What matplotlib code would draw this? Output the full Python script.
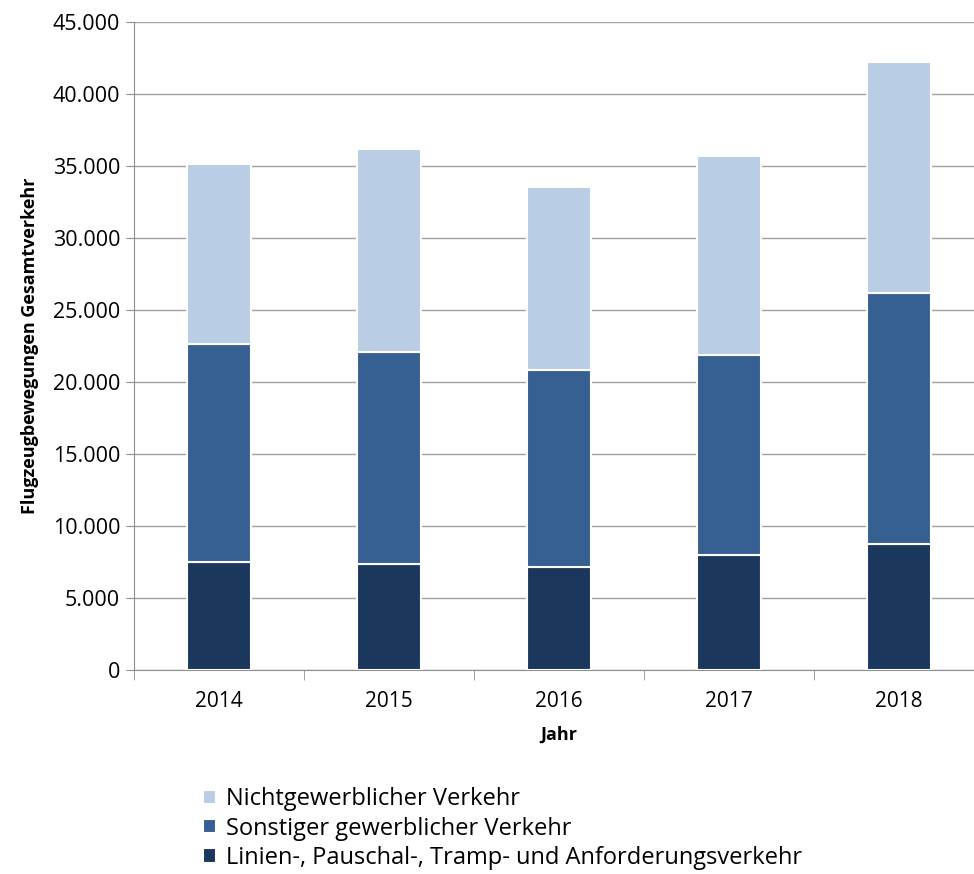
import numpy as np
import matplotlib.pyplot as plt
from matplotlib.ticker import FuncFormatter

plt.rcParams['font.family'] = ['Open Sans', 'DejaVu Sans']

# Flugbewegungen je Jahr, gestapelt nach Verkehrsart
jahre = ['2014', '2015', '2016', '2017', '2018']
linien = [7500, 7350, 7180, 8000, 8750]
sonstige = [15150, 14750, 13670, 13850, 17400]
nichtgewerblich = [12500, 14100, 12700, 13850, 16100]

labels = ['Linien-, Pauschal-, Tramp- und Anforderungsverkehr',
          'Sonstiger gewerblicher Verkehr',
          'Nichtgewerblicher Verkehr']
farben = ['#1b375e', '#376092', '#b9cde5']

fig = plt.figure(figsize=(9.74, 8.74), dpi=100)
ax = fig.add_axes([134 / 974, 204 / 874, 850 / 974, 648 / 874])

x = np.arange(len(jahre))
bottom = np.zeros(len(jahre))
handles = []
for werte, farbe, lab in zip([linien, sonstige, nichtgewerblich], farben, labels):
    b = ax.bar(x, werte, 0.38, bottom=bottom, color=farbe, edgecolor='white',
               linewidth=1.5, label=lab, zorder=3)
    handles.append(b)
    bottom += np.array(werte)

ax.set_xlim(-0.5, len(jahre) - 0.5)
ax.set_ylim(0, 45000)
ax.set_yticks(np.arange(0, 45001, 5000))
ax.yaxis.set_major_formatter(FuncFormatter(lambda v, p: f'{int(v):,}'.replace(',', '.')))
ax.grid(axis='y', color='#a0a0a0', linewidth=1, zorder=0)

ax.set_xticks(x)
ax.set_xticklabels(jahre)
ax.set_xticks(np.arange(-0.5, len(jahre)), minor=True)
ax.tick_params(axis='x', which='major', length=0, pad=15, labelsize=15)
ax.tick_params(axis='x', which='minor', length=7, color='#909090')
ax.tick_params(axis='y', length=6, color='#909090', labelsize=15.5, pad=4)

for s in ['top', 'right']:
    ax.spines[s].set_visible(False)
ax.spines['left'].set_color('#909090')
ax.spines['bottom'].set_color('#909090')

ax.set_xlabel('Jahr', fontsize=13, fontweight='bold', labelpad=10)
ax.set_ylabel('Flugzeugbewegungen Gesamtverkehr', fontsize=13, fontweight='bold', labelpad=10)

fig.legend(handles[::-1], labels[::-1], loc='upper left', bbox_to_anchor=(194 / 974, 1 - 778 / 874),
           frameon=False, fontsize=17, handlelength=0.55, handleheight=0.55,
           handletextpad=0.4, labelspacing=0.22, borderaxespad=0)

fig.savefig('out.png', dpi=100)
